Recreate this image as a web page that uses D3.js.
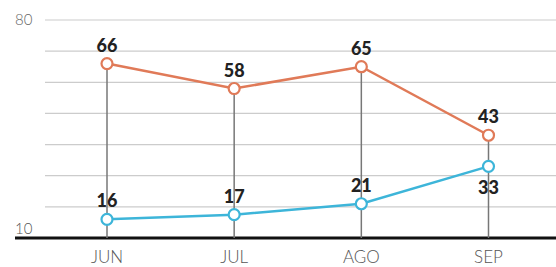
<!DOCTYPE html>
<html><head><meta charset="utf-8">
<script src="https://cdn.jsdelivr.net/npm/d3@7"></script>
<style>body{margin:0;background:#fff;}svg{display:block;}</style>
</head><body>
<svg id="c" width="556" height="267"></svg>
<script>
const months = ["JUN", "JUL", "AGO", "SEP"];
const orangeValues = [66, 58, 65, 43];
const blueValues = [16, 17.5, 21, 33];
const blueLabels = ["16", "17", "21", "33"];
const orangeLabels = ["66", "58", "65", "43"];
const gridTicks = [10, 20, 30, 40, 50, 60, 70, 80];
const axisLabels = ["10", "80"];

const svg = d3.select("#c");
const x = d3.scalePoint().domain(months).range([107, 488.5]);
const y = d3.scaleLinear().domain([10, 80]).range([238, 20]);

// gridlines
svg.append("g").selectAll("line").data(gridTicks.filter(t => t !== 10)).join("line")
  .attr("x1", 45).attr("x2", 556)
  .attr("y1", d => y(d)).attr("y2", d => y(d))
  .attr("stroke", "#cccccc").attr("stroke-width", 1.2);

// baseline
svg.append("line").attr("x1", 15).attr("x2", 556)
  .attr("y1", y(10)).attr("y2", y(10))
  .attr("stroke", "#111").attr("stroke-width", 3);

// axis labels
svg.append("text").text(axisLabels[1]).attr("x", 15).attr("y", y(80) + 5)
  .attr("font-family", "Lato").attr("font-weight", 300).attr("font-size", 15).attr("fill", "#666");
svg.append("text").text(axisLabels[0]).attr("x", 15).attr("y", y(10) - 4)
  .attr("font-family", "Lato").attr("font-weight", 300).attr("font-size", 15).attr("fill", "#555");

// vertical drop lines
svg.append("g").selectAll("line").data(months).join("line")
  .attr("x1", d => x(d)).attr("x2", d => x(d))
  .attr("y1", (d, i) => y(Math.max(orangeValues[i], blueValues[i])))
  .attr("y2", y(10))
  .attr("stroke", "#777").attr("stroke-width", 1.5);

// x labels
svg.append("g").selectAll("text").data(months).join("text")
  .text(d => d).attr("x", d => x(d)).attr("y", 263)
  .attr("text-anchor", "middle")
  .attr("font-family", "Lato").attr("font-weight", 300).attr("font-size", 17).attr("fill", "#555");

function series(vals, labels, color, below) {
  const line = d3.line().x((d, i) => x(months[i])).y(d => y(d));
  svg.append("path").datum(vals).attr("d", line)
    .attr("fill", "none").attr("stroke", color).attr("stroke-width", 2.5);
  svg.append("g").selectAll("circle").data(vals).join("circle")
    .attr("cx", (d, i) => x(months[i])).attr("cy", d => y(d)).attr("r", 5.5)
    .attr("fill", "#fff").attr("stroke", color).attr("stroke-width", 2.2);
  svg.append("g").selectAll("text").data(vals).join("text")
    .text((d, i) => labels[i])
    .attr("x", (d, i) => x(months[i]))
    .attr("y", (d, i) => below[i] ? y(d) + 28 : y(d) - 12)
    .attr("text-anchor", "middle")
    .attr("font-family", "Lato").attr("font-weight", 900).attr("font-size", 18).attr("fill", "#222");
}
series(orangeValues, orangeLabels, "#E07A58", [false, false, false, false]);
series(blueValues, blueLabels, "#3DB5D9", [false, false, false, true]);
</script>
</body></html>
